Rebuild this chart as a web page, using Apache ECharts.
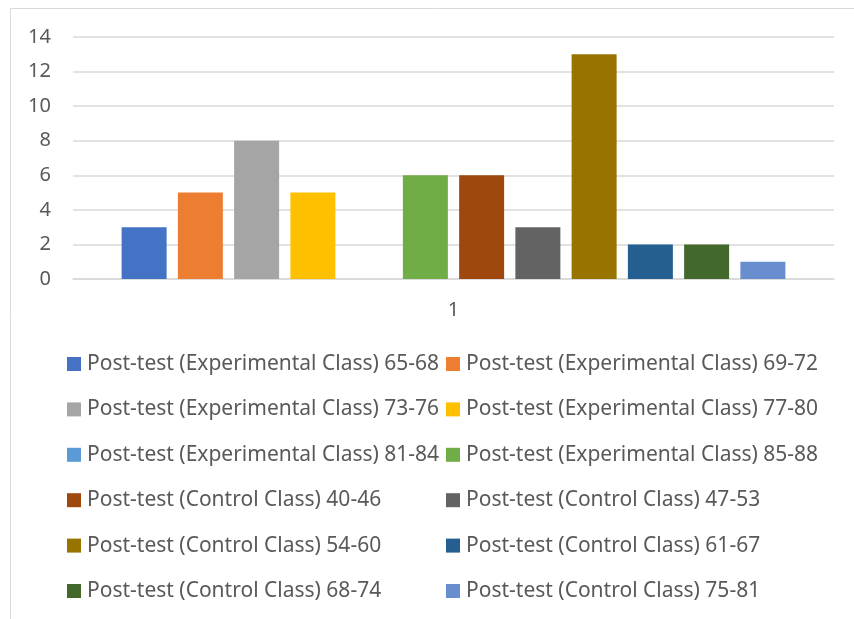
<!DOCTYPE html>
<html><head><meta charset="utf-8">
<script src="https://cdn.jsdelivr.net/npm/echarts@6/dist/echarts.min.js"></script>
<style>html,body{margin:0;padding:0;background:#fff}#c{width:854px;height:619px}</style>
</head><body><div id="c"></div>
<script>
const categories = ['1'];
const seriesNames = [
  'Post-test (Experimental Class) 65-68',
  'Post-test (Experimental Class) 69-72',
  'Post-test (Experimental Class) 73-76',
  'Post-test (Experimental Class) 77-80',
  'Post-test (Experimental Class) 81-84',
  'Post-test (Experimental Class) 85-88',
  'Post-test (Control Class) 40-46',
  'Post-test (Control Class) 47-53',
  'Post-test (Control Class) 54-60',
  'Post-test (Control Class) 61-67',
  'Post-test (Control Class) 68-74',
  'Post-test (Control Class) 75-81'
];
const seriesValues = [3, 5, 8, 5, 0, 6, 6, 3, 13, 2, 2, 1];
const seriesColors = ['#4472C4','#ED7D31','#A5A5A5','#FFC000','#5B9BD5','#70AD47','#9E480E','#636363','#997300','#255E91','#43682B','#698ED0'];
const yTicks = [0, 2, 4, 6, 8, 10, 12, 14];

const FONT = 'Noto Sans';
const chart = echarts.init(document.getElementById('c'));
const series = seriesNames.map((n, i) => ({
  name: n, type: 'bar', data: [seriesValues[i]],
  itemStyle: { color: seriesColors[i] },
  barWidth: 45, barGap: '25%'
}));
const legendCommon = {
  orient: 'vertical', icon: 'rect', itemWidth: 14, itemHeight: 14, itemGap: 24.4,
  textStyle: { fontFamily: FONT, fontSize: 21, color: '#595959', padding: [0,0,0,1] },
  selectedMode: false, top: 348.5
};
chart.setOption({
  animation: false,
  textStyle: { fontFamily: FONT },
  graphic: [{ type: 'rect', shape: { x: 10.5, y: 8.5, width: 860, height: 640 }, style: { fill: 'none', stroke: '#d9d9d9', lineWidth: 1 }, silent: true }],
  grid: { left: 73, right: 20, top: 37, bottom: 340 },
  legend: [
    Object.assign({}, legendCommon, { left: 62, data: seriesNames.filter((_, i) => i % 2 === 0) }),
    Object.assign({}, legendCommon, { left: 441, data: seriesNames.filter((_, i) => i % 2 === 1) })
  ],
  xAxis: {
    type: 'category', data: categories,
    axisLine: { lineStyle: { color: '#d9d9d9', width: 1.5 } },
    axisTick: { show: false },
    axisLabel: { fontFamily: FONT, fontSize: 20, color: '#595959', margin: 21 }
  },
  yAxis: {
    type: 'value', min: yTicks[0], max: yTicks[yTicks.length - 1], interval: 2,
    axisLine: { show: false }, axisTick: { show: false },
    axisLabel: { fontFamily: FONT, fontSize: 20, color: '#595959', margin: 22 },
    splitLine: { lineStyle: { color: '#d9d9d9', width: 1.5 } }
  },
  series: series
});
</script></body></html>
